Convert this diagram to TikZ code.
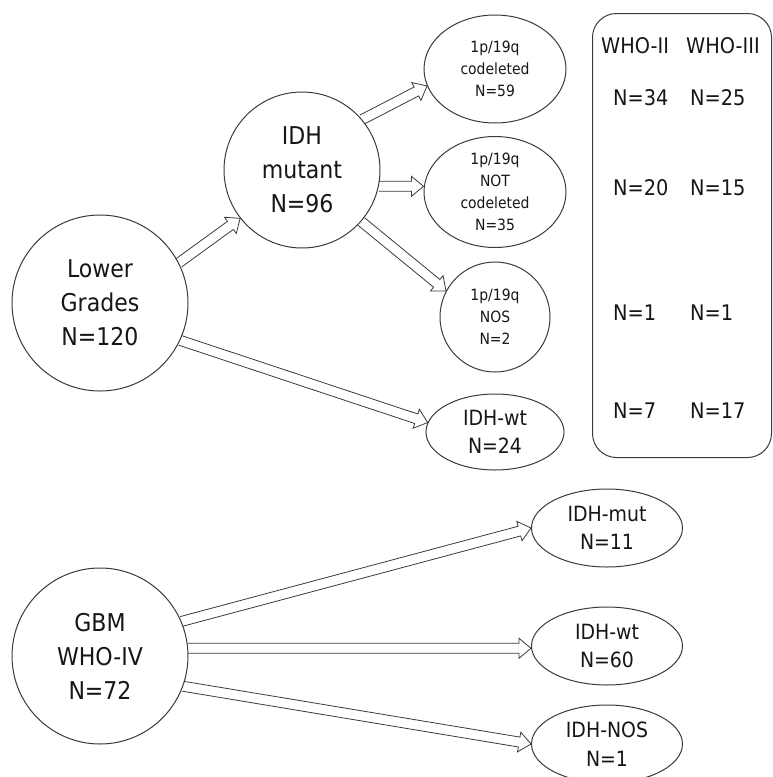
\documentclass[tikz,border=0pt]{standalone}
\usepackage{fontspec}
\setmainfont{DejaVu Sans Condensed}
\usepackage{tikz}
\usetikzlibrary{calc,positioning,shapes.geometric}
\definecolor{lineGray}{RGB}{58,58,58}
\definecolor{inkBlack}{RGB}{22,22,22}
\newcommand{\groupfont}{\fontsize{24.5}{34}\selectfont}
\newcommand{\subfont}{\fontsize{15.5}{22}\selectfont}
\newcommand{\midfont}{\fontsize{21}{28.5}\selectfont}
\newcommand{\tabfont}{\fontsize{21.5}{26}\selectfont}

\begin{document}
\begin{tikzpicture}[x=1pt, y=-1pt,
    every node/.style={text=inkBlack},
    group/.style={circle, draw=lineGray, line width=1pt, inner sep=0pt, align=center, font=\groupfont},
    subgroup/.style={ellipse, draw=lineGray, line width=1pt, inner sep=0pt, align=center},
    cell/.style={anchor=base west, inner sep=0pt, font=\tabfont},
    fatarrow/.style={draw=lineGray, line width=0.8pt, line join=miter, to path={
        let \p1=(\tikztostart), \p2=(\tikztotarget), \p3=($(\p2)!12pt!(\p1)$) in
        ($(\p1)!5pt!90:(\p2)$) -- ($(\p3)!5pt!90:(\p2)$) -- ($(\p3)!10pt!90:(\p2)$) -- (\p2)
        -- ($(\p3)!10pt!-90:(\p2)$) -- ($(\p3)!5pt!-90:(\p2)$) -- ($(\p1)!5pt!-90:(\p2)$)}}]
    \useasboundingbox (0,0) rectangle (772,777);
    \clip (0,0) rectangle (772,777);

    % lower grades branch
    \node[group, minimum size=176pt] (lg) at (100,303) {Lower\\Grades\\N=120};
    \node[group, minimum size=156pt] (idhmut) at (302,170) {IDH\\mutant\\N=96};
    \node[subgroup, minimum width=142pt, minimum height=108pt, font=\subfont] (codel) at (495,69) {1p/19q\\codeleted\\N=59};
    \node[subgroup, minimum width=142pt, minimum height=111pt, font=\subfont] (notcodel) at (495,192) {1p/19q\\NOT\\codeleted\\N=35};
    \node[circle, draw=lineGray, line width=1pt, inner sep=0pt, align=center, minimum size=110pt, font=\subfont] (nos) at (495,317) {1p/19q\\NOS\\N=2};
    \node[subgroup, minimum width=138pt, minimum height=76pt, font=\midfont] (wt24) at (495,432) {IDH-wt\\N=24};

    % GBM branch
    \node[group, minimum size=176pt] (gbm) at (100,656) {GBM\\WHO-IV\\N=72};
    \node[subgroup, minimum width=151pt, minimum height=78pt, font=\midfont] (mut) at (607,528) {IDH-mut\\N=11};
    \node[subgroup, minimum width=151pt, minimum height=78pt, font=\midfont] (wt60) at (607,646) {IDH-wt\\N=60};
    \node[subgroup, minimum width=151pt, minimum height=78pt, font=\midfont] (idhnos) at (607,744) {IDH-NOS\\N=1};

    % grade table
    \node[draw=lineGray, line width=1pt, rounded corners=24pt, minimum width=179pt, minimum height=444pt, anchor=north west] (gradebox) at (592,13) {};
    \node[cell] (whoII) at (601,53) {WHO-II};
    \node[cell] (whoIII) at (686,53) {WHO-III};
    \node[cell] (c1a) at (613,105) {N=34};
    \node[cell] (c1b) at (690,105) {N=25};
    \node[cell] (c2a) at (613,195) {N=20};
    \node[cell] (c2b) at (690,195) {N=15};
    \node[cell] (c3a) at (613,320) {N=1};
    \node[cell] (c3b) at (690,320) {N=1};
    \node[cell] (c4a) at (613,418) {N=7};
    \node[cell] (c4b) at (690,418) {N=17};

    \draw[fatarrow] (lg.27) to (idhmut.218);
    \draw[fatarrow] (idhmut.40) to (codel.194);
    \draw[fatarrow] (idhmut.-12) to (idhmut.-12 -| notcodel.west);
    \draw[fatarrow] (idhmut.-41) to (nos.152);
    \draw[fatarrow] (lg.-25) to (wt24.172);
    \draw[fatarrow] (gbm.23) to (mut.west);
    \draw[fatarrow] (gbm.5) to (gbm.5 -| wt60.west);
    \draw[fatarrow] (gbm.-20) to (idhnos.west);
\end{tikzpicture}
\end{document}
